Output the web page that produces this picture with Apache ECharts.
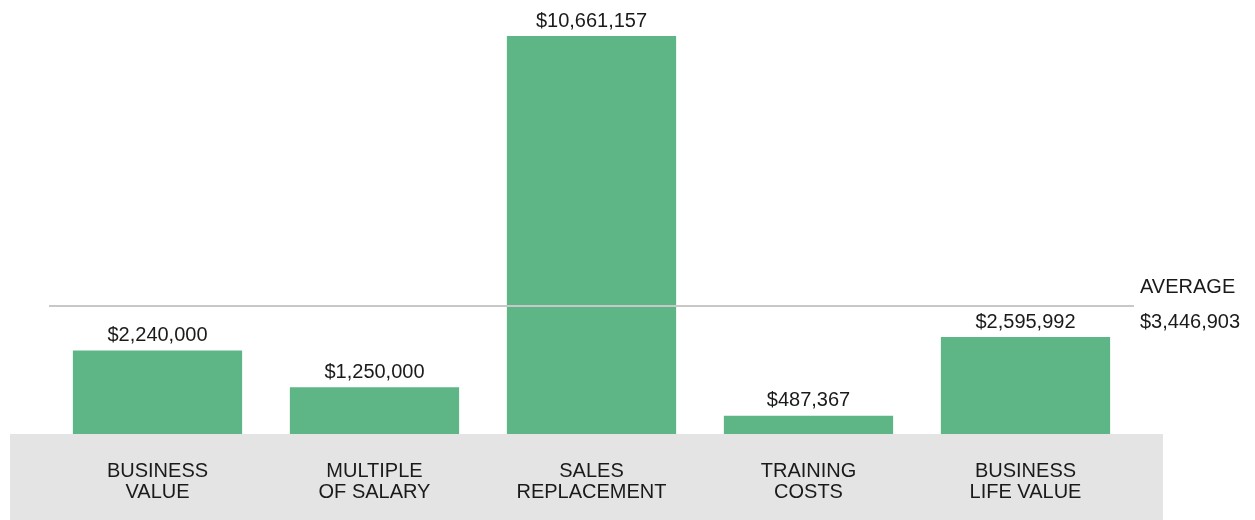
<!DOCTYPE html>
<html>
<head>
<meta charset="utf-8">
<script src="https://cdn.jsdelivr.net/npm/echarts@6/dist/echarts.min.js"></script>
<style>
  html, body { margin: 0; padding: 0; background: #fff; }
  #chart { width: 1255px; height: 520px; }
</style>
</head>
<body>
<div id="chart"></div>
<script>
// cost categories and their values
const categories = ['BUSINESS\nVALUE', 'MULTIPLE\nOF SALARY', 'SALES\nREPLACEMENT', 'TRAINING\nCOSTS', 'BUSINESS\nLIFE VALUE'];
const values = [2240000, 1250000, 10661157, 487367, 2595992];
const averageValue = 3446903;

const FONT = '"Liberation Sans", Arial, sans-serif';
const money = v => '$' + v.toLocaleString('en-US');

const chart = echarts.init(document.getElementById('chart'));

chart.setOption({
  animation: false,
  backgroundColor: '#fff',
  grid: { left: 49, right: 121, top: 36, bottom: 86 },
  // grey band behind the category labels
  graphic: [{
    type: 'rect',
    z: -10,
    shape: { x: 10, y: 434, width: 1153, height: 86 },
    style: { fill: '#e4e4e4' },
    silent: true,
  }],
  xAxis: {
    type: 'category',
    data: categories,
    axisLine: { show: false },
    axisTick: { show: false },
    axisLabel: {
      color: '#1a1a1a',
      fontFamily: FONT,
      fontSize: 20,
      lineHeight: 21,
      margin: 27,
      interval: 0,
    },
  },
  yAxis: {
    type: 'value',
    min: 0,
    max: 10661157,
    show: false,
    splitLine: { show: false },
  },
  series: [{
    type: 'bar',
    data: values,
    barWidth: '78%',
    itemStyle: { color: '#5eb687' },
    label: {
      show: true,
      position: 'top',
      distance: 5,
      color: '#1a1a1a',
      fontFamily: FONT,
      fontSize: 20,
      formatter: p => money(p.value),
    },
    markLine: {
      silent: true,
      symbol: 'none',
      lineStyle: { color: '#c8c8c8', width: 2, type: 'solid' },
      label: {
        position: 'end',
        distance: 6,
        color: '#1a1a1a',
        fontFamily: FONT,
        fontSize: 20,
        lineHeight: 35,
        align: 'left',
        formatter: () => 'AVERAGE\n' + money(averageValue),
      },
      data: [{ yAxis: averageValue }],
    },
  }],
});
</script>
</body>
</html>
